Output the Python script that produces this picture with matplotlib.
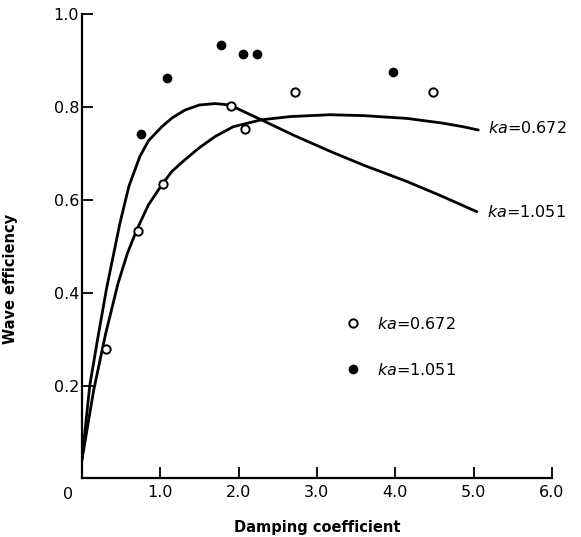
import matplotlib
matplotlib.use('Agg')
import matplotlib.pyplot as plt

plt.rcParams['font.family'] = 'DejaVu Sans'
plt.rcParams['mathtext.fontset'] = 'dejavusans'

# measured points
open_x = [0.31, 0.71, 1.03, 1.90, 2.08, 2.72, 4.48]
open_y = [0.28, 0.534, 0.634, 0.803, 0.753, 0.833, 0.833]
full_x = [0.75, 1.08, 1.78, 2.06, 2.23, 3.97]
full_y = [0.743, 0.864, 0.935, 0.915, 0.915, 0.875]

# fitted curves
curve_672_x = [0, 0.15, 0.30, 0.46, 0.58, 0.70, 0.85, 1.02, 1.15, 1.315, 1.50, 1.70,
               1.93, 2.29, 2.66, 3.17, 3.60, 4.15, 4.60, 4.87, 5.06]
curve_672_y = [0.04, 0.19, 0.31, 0.42, 0.485, 0.536, 0.59, 0.633, 0.662, 0.687, 0.713, 0.737,
               0.758, 0.773, 0.780, 0.784, 0.782, 0.776, 0.766, 0.758, 0.751]
curve_1051_x = [0, 0.10, 0.20, 0.315, 0.40, 0.485, 0.60, 0.74, 0.85, 1.02, 1.15, 1.315,
                1.50, 1.70, 1.89, 2.05, 2.29, 2.70, 3.17, 3.60, 4.15, 4.60, 5.04]
curve_1051_y = [0.04, 0.20, 0.30, 0.41, 0.48, 0.55, 0.63, 0.694, 0.728, 0.758, 0.777, 0.794,
                0.805, 0.808, 0.805, 0.792, 0.773, 0.740, 0.705, 0.675, 0.640, 0.608, 0.575]

xticks = [1, 2, 3, 4, 5, 6]
xticklabels = ['1.0', '2.0', '3.0', '4.0', '5.0', '6.0']
yticks = [0.2, 0.4, 0.6, 0.8, 1.0]
yticklabels = ['0.2', '0.4', '0.6', '0.8', '1.0']

fig = plt.figure(figsize=(5.81, 5.37), dpi=100)
ax = fig.add_axes([0.141, 0.109, 0.809, 0.864])

ax.plot(curve_672_x, curve_672_y, color='black', lw=2.0, solid_capstyle='round')
ax.plot(curve_1051_x, curve_1051_y, color='black', lw=2.0, solid_capstyle='round')

ax.plot(open_x, open_y, 'o', ms=6, mfc='white', mec='black', mew=1.4,
        label='$ka$=0.672', zorder=5)
ax.plot(full_x, full_y, 'o', ms=6, mfc='black', mec='black', mew=1.0,
        label='$ka$=1.051', zorder=5)

ax.text(5.18, 0.756, '$ka$=0.672', fontsize=11.5, va='center', ha='left')
ax.text(5.17, 0.575, '$ka$=1.051', fontsize=11.5, va='center', ha='left')

ax.set_xlim(0, 6)
ax.set_ylim(0, 1.0)
ax.set_xticks(xticks)
ax.set_xticklabels(xticklabels)
ax.set_yticks(yticks)
ax.set_yticklabels(yticklabels)
ax.tick_params(direction='in', length=8, width=1.3, labelsize=11.5)
ax.tick_params(axis='x', pad=5)
ax.tick_params(axis='y', pad=2)
ax.text(-0.03, -0.018, '0', transform=ax.transAxes, ha='center', va='top', fontsize=11.5)

for s in ['top', 'right']:
    ax.spines[s].set_visible(False)
for s in ['left', 'bottom']:
    ax.spines[s].set_linewidth(1.6)

ax.set_xlabel('Damping coefficient', fontsize=10.5, fontweight='bold', labelpad=14)
ax.set_ylabel('Wave efficiency', fontsize=10.5, fontweight='bold')
ax.yaxis.set_label_coords(-0.135, 0.43)

ax.legend(loc='center left', bbox_to_anchor=(0.56, 0.284), frameon=False,
          fontsize=11.5, handlelength=1.0, handletextpad=1.0, labelspacing=1.9,
          borderpad=0, borderaxespad=0)

fig.savefig('out.png', dpi=100)
